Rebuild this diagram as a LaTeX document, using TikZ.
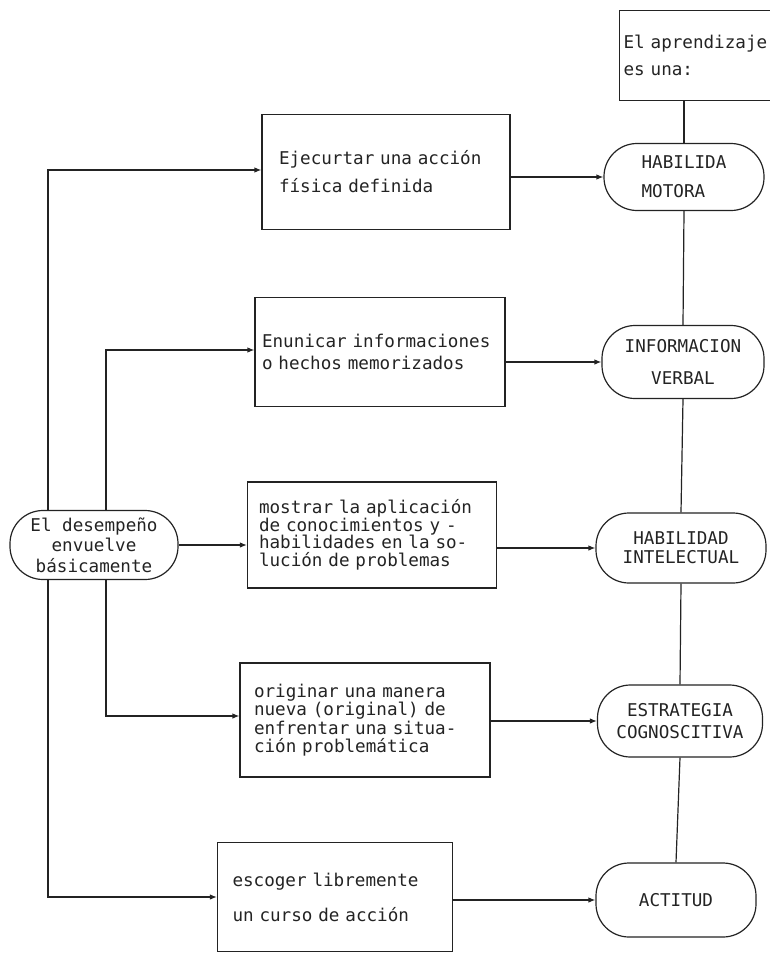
\documentclass[tikz,border=0pt]{standalone}
\usepackage{fontspec}
\setmainfont{DejaVu Sans Mono}
\usetikzlibrary{arrows.meta}
\definecolor{ink}{RGB}{35,35,35}
\begin{document}
\begin{tikzpicture}[x=1pt,y=-1pt,
  line width=1.2pt, draw=ink, text=ink,
  fs/.style 2 args={font=\fontsize{17.6}{#2}\selectfont},
  box/.style={draw, rectangle, align=left, inner sep=0pt},
  pill/.style={draw, rectangle, rounded corners=33pt, align=center, inner sep=0pt},
  arr/.style={-{Latex[length=7pt,width=5.5pt]}},
]
\useasboundingbox (0,0) rectangle (769,961);

% heading box (runs off the right edge)
\node[box, anchor=north west, minimum width=181pt, minimum height=90pt,
      text width=173pt, fs={17}{27}] (top) at (619,10) {El aprendizaje\\es una:};

% activity boxes
\node[box, minimum width=248pt, minimum height=115pt, text width=214pt, fs={17}{28}]
  (B1) at (386,172) {Ejecurtar una acción\\física definida};
\node[box, minimum width=250pt, minimum height=109pt, text width=236pt, fs={17}{22}]
  (B2) at (380,352) {Enunicar informaciones\\o hechos memorizados};
\node[box, minimum width=249pt, minimum height=106pt, text width=226pt, fs={17}{17.5}]
  (B3) at (372,535) {mostrar la aplicación\\de conocimientos y -\\habilidades en la so-\\lución de problemas};
\node[box, minimum width=250pt, minimum height=114pt, text width=222pt, fs={17}{18.5}]
  (B4) at (365,720) {originar una manera\\nueva (original) de\\enfrentar una situa-\\ción problemática};
\node[box, minimum width=235pt, minimum height=109pt, text width=205pt, fs={17}{35}]
  (B5) at (335,897) {escoger libremente\\un curso de acción};

% learning outcomes
\node[pill, align=left, minimum width=160pt, minimum height=67pt, fs={17}{29}]
  (O1) at (684,177) {HABILIDA\\MOTORA};
\node[pill, minimum width=162pt, minimum height=73pt, fs={17}{32}]
  (O2) at (683,362) {INFORMACION\\VERBAL};
\node[pill, minimum width=170pt, minimum height=70pt, fs={17}{19}]
  (O3) at (681,548) {HABILIDAD\\INTELECTUAL};
\node[pill, minimum width=165pt, minimum height=72pt, fs={17}{22}]
  (O4) at (680,721) {ESTRATEGIA\\COGNOSCITIVA};
\node[pill, minimum width=160pt, minimum height=74pt, fs={17}{20}]
  (O5) at (676,900) {ACTITUD};

% performance
\node[pill, minimum width=168pt, minimum height=69pt, fs={17}{20.5}]
  (L) at (94,545) {El desempeño\\envuelve\\básicamente};

% spine on the right
\draw (top.south -| O1.north) -- (O1.north);
\draw (O1.south) -- (O2.north);
\draw (O2.south) -- (O3.north);
\draw (O3.south) -- (O4.north);
\draw (O4.south) -- (O5.north);

% branches on the left
\coordinate (oT) at (48,170);
\coordinate (oB) at (48,897);
\coordinate (iT) at (106,350);
\coordinate (iB) at (106,716);
\draw[arr] (oT |- L.north) -- (oT) -- (oT -| B1.west);
\draw[arr] (oB |- L.south) -- (oB) -- (oB -| B5.west);
\draw[arr] (iT |- L.north) -- (iT) -- (iT -| B2.west);
\draw[arr] (iB |- L.south) -- (iB) -- (iB -| B4.west);
\draw[arr] (L.east) -- (L.east -| B3.west);

% boxes to outcomes
\draw[arr] (B1.east |- O1.west) -- (O1.west);
\draw[arr] (B2.east |- O2.west) -- (O2.west);
\draw[arr] (B3.east |- O3.west) -- (O3.west);
\draw[arr] (B4.east |- O4.west) -- (O4.west);
\draw[arr] (B5.east |- O5.west) -- (O5.west);
\end{tikzpicture}
\end{document}
